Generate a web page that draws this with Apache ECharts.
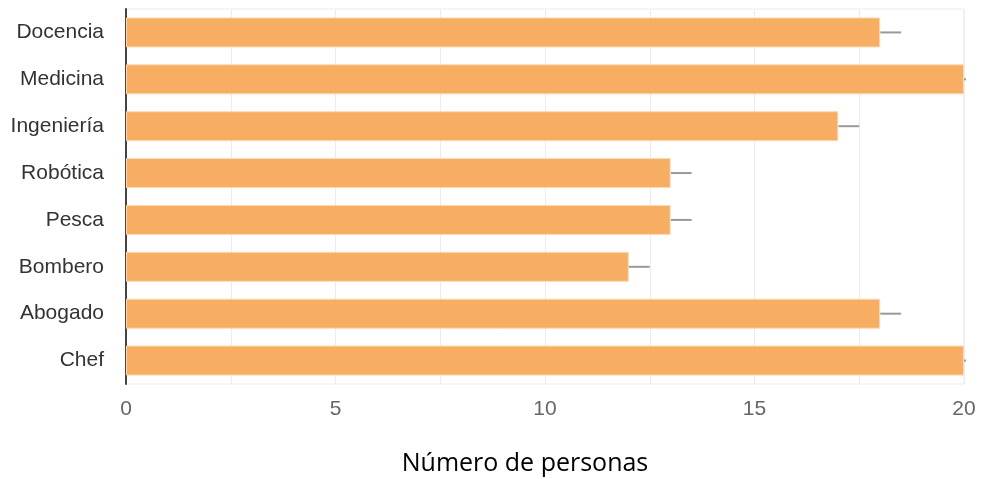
<!DOCTYPE html>
<html>
<head>
<meta charset="utf-8">
<script src="https://cdn.jsdelivr.net/npm/echarts@6/dist/echarts.min.js"></script>
<style>html,body{margin:0;padding:0;background:#fff}#c{width:984px;height:479px}</style>
</head>
<body>
<div id="c"></div>
<script>
var categories = ['Docencia','Medicina','Ingeniería','Robótica','Pesca','Bombero','Abogado','Chef'];
var values = [18, 20, 17, 13, 13, 12, 18, 20];
var errors = [0.5, 0.05, 0.5, 0.5, 0.5, 0.5, 0.5, 0.05];
var xTicks = [0, 5, 10, 15, 20];
var axisTitle = 'Número de personas';

var chart = echarts.init(document.getElementById('c'));
var errData = values.map(function (v, i) { return [i, v, v + errors[i]]; });
chart.setOption({
  animation: false,
  grid: { left: 126, right: 20, top: 9, bottom: 95, show: true, borderColor: '#ebebeb', borderWidth: 1,
          outerBoundsMode: 'none', containLabel: false },
  xAxis: {
    type: 'value', min: 0, max: 20, interval: 2.5,
    axisLine: { show: false }, axisTick: { show: false },
    splitLine: { lineStyle: { color: '#ebebeb', width: 1 } },
    axisLabel: {
      color: '#666', fontFamily: '"Liberation Sans", Arial, sans-serif', fontSize: 21, margin: 15,
      formatter: function (v) { return xTicks.indexOf(v) >= 0 ? String(v) : ''; }
    },
    name: axisTitle, nameLocation: 'middle', nameGap: 67,
    nameTextStyle: { color: '#000', fontFamily: '"Open Sans", sans-serif', fontSize: 25, padding: [0, 40, 0, 0] }
  },
  yAxis: {
    type: 'category', data: categories, inverse: true,
    axisLine: { show: true, lineStyle: { color: '#444', width: 2 } },
    axisTick: { show: false },
    axisLabel: { color: '#333', fontFamily: '"Liberation Sans", Arial, sans-serif', fontSize: 21, margin: 22,
                 padding: [3, 0, 0, 0] }
  },
  series: [
    {
      type: 'bar', data: values, barCategoryGap: '36%',
      itemStyle: { color: '#F7AE62', borderColor: '#FBD9B4', borderWidth: 1 }
    },
    {
      type: 'custom', data: errData, clip: false, z: 1,
      renderItem: function (params, api) {
        var cat = api.value(0);
        var p1 = api.coord([api.value(1), cat]);
        var p2 = api.coord([api.value(2), cat]);
        return { type: 'line', shape: { x1: p1[0], y1: p1[1], x2: p2[0], y2: p2[1] },
          style: { stroke: '#999', lineWidth: 2 } };
      }
    }
  ]
});
</script>
</body>
</html>
